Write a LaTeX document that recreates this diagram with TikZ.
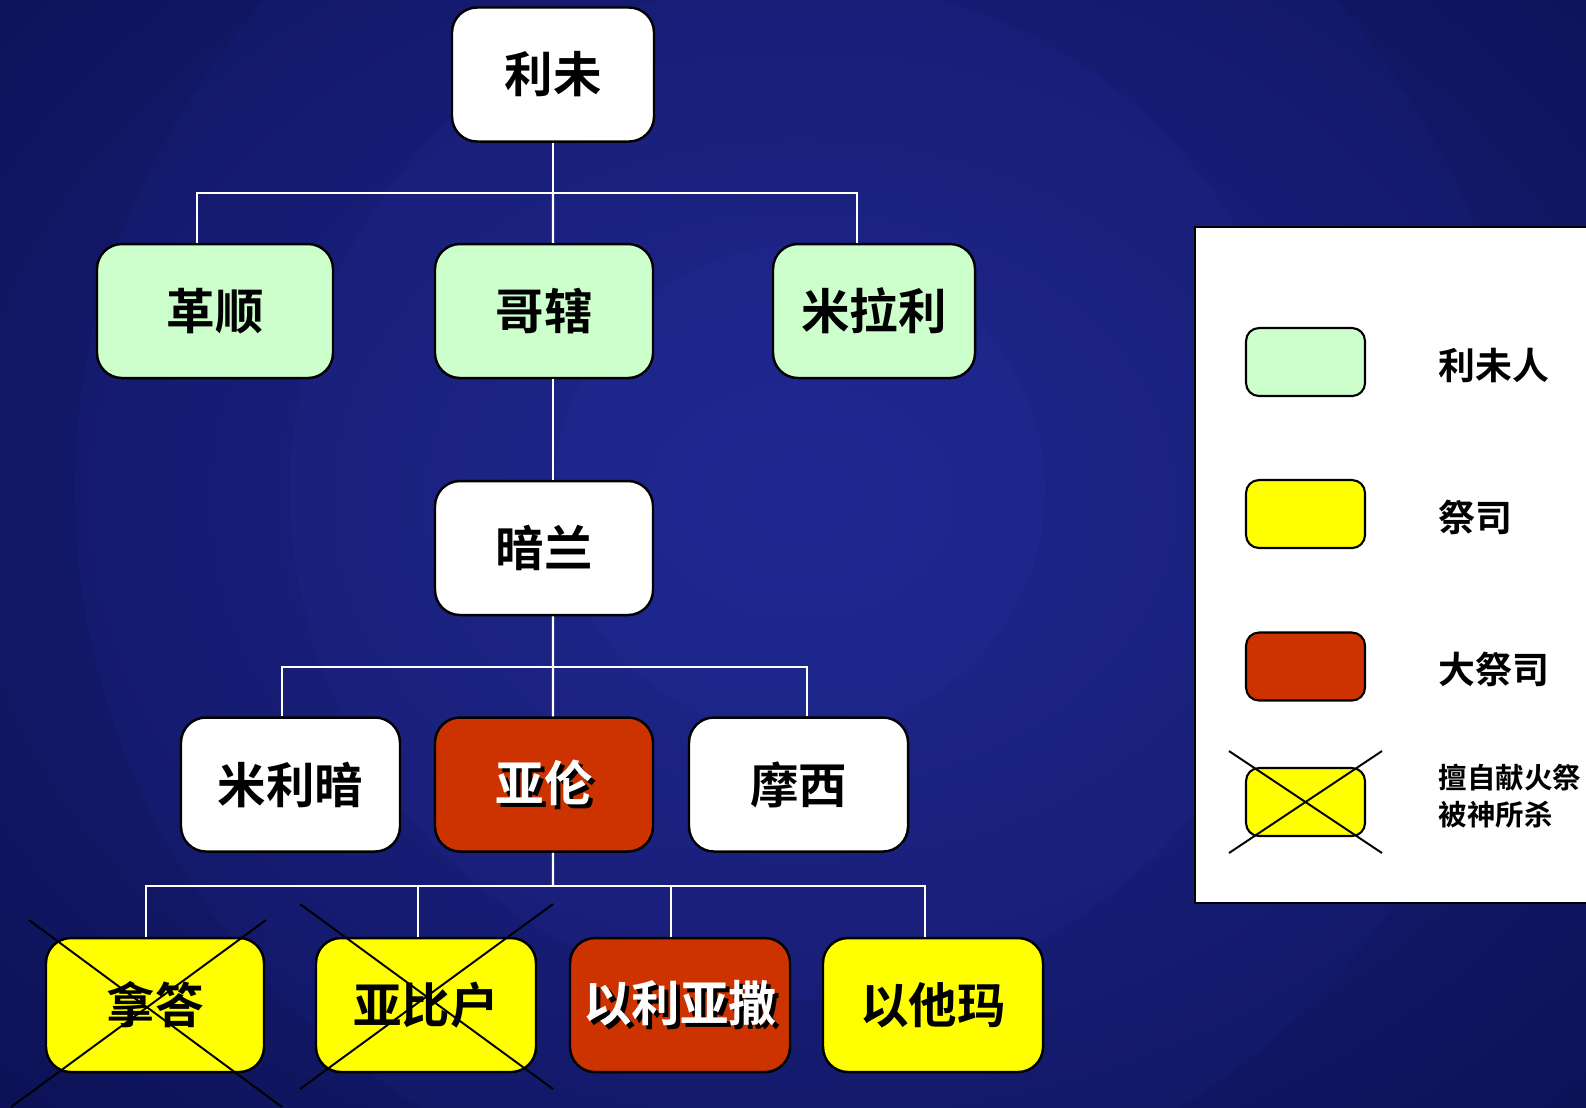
\documentclass[tikz,border=0pt]{standalone}
\usepackage{fontspec}
\newfontfamily\cjk{Noto Sans CJK SC}[BoldFont={Noto Sans CJK SC Bold}]
\usetikzlibrary{positioning}

\definecolor{bgdark}{HTML}{0A0F4E}
\definecolor{bgmid}{HTML}{1D2489}
\definecolor{bgring}{HTML}{2A34A8}
\definecolor{levitegreen}{HTML}{CCFFCC}
\definecolor{priestyellow}{HTML}{FFFF00}
\definecolor{highred}{HTML}{CC3300}

\newcommand{\shadowtext}[1]{\makebox[0pt][l]{\hspace{1.2pt}\raisebox{-1.2pt}{\color{black}#1}}{\color{white}#1}}

\tikzset{
  person/.style={draw=black, line width=0.7pt, rounded corners=0.25cm,
    minimum height=1.34cm, inner sep=0pt, font=\cjk\bfseries\fontsize{13.8}{16}\selectfont},
  levite/.style={person, fill=levitegreen},
  priest/.style={person, fill=priestyellow},
  highpriest/.style={person, fill=highred},
  plain/.style={person, fill=white},
  link/.style={white, line width=0.6pt},
  killed/.style={black, line width=0.55pt},
  keybox/.style={draw=black, line width=0.6pt, rounded corners=0.13cm,
    minimum width=1.19cm, minimum height=0.68cm, inner sep=0pt},
  keytext/.style={anchor=west, inner sep=0pt, font=\cjk\bfseries\fontsize{10.5}{12}\selectfont}
}

\begin{document}
\begin{tikzpicture}
    \useasboundingbox (0,0) rectangle (15.86,-11.07);
    \clip (0,0) rectangle (15.86,-11.07);
    % Background
    \shade[inner color=bgmid, outer color=bgdark] (-5,5) rectangle (21,-15);
    \fill[bgring, opacity=0.10] (8.0,-4.9) circle (7.25);
    \fill[bgring, opacity=0.12] (8.0,-4.9) circle (5.1);
    \fill[bgring, opacity=0.14] (8.0,-4.9) circle (2.45);

    % Levi and his sons
    \node[plain, minimum width=2.02cm] (levi) at (5.53,-0.745) {利未};
    \node[levite, minimum width=2.36cm] (gershon) at (2.15,-3.11) {革顺};
    \node[levite, minimum width=2.18cm] (kohath) at (5.44,-3.11) {哥辖};
    \node[levite, minimum width=2.02cm] (merari) at (8.74,-3.11) {米拉利};

    % Amram and his children
    \node[plain, minimum width=2.18cm] (amram) at (5.44,-5.48) {暗兰};
    \node[plain, minimum width=2.19cm] (miriam) at (2.905,-7.845) {米利暗};
    \node[highpriest, minimum width=2.18cm] (aaron) at (5.44,-7.845) {\shadowtext{亚伦}};
    \node[plain, minimum width=2.19cm] (moses) at (7.985,-7.845) {摩西};

    % Aaron's sons
    \node[priest, minimum width=2.18cm] (nadab) at (1.55,-10.05) {拿答};
    \node[priest, minimum width=2.20cm] (abihu) at (4.26,-10.05) {亚比户};
    \node[highpriest, minimum width=2.20cm] (eleazar) at (6.80,-10.05) {\shadowtext{以利亚撒}};
    \node[priest, minimum width=2.20cm] (ithamar) at (9.33,-10.05) {以他玛};

    % Lines of descent
    \coordinate (b1) at (5.53,-1.93);
    \draw[link] (levi) -- (b1);
    \draw[link] (b1) -| ([xshift=-1.8mm]gershon.north);
    \draw[link] (b1) -- ([xshift=0.9mm]kohath.north);
    \draw[link] (b1) -| ([xshift=-1.7mm]merari.north);
    \draw[link] ([xshift=0.9mm]kohath.south) -- ([xshift=0.9mm]amram.north);

    \coordinate (b2) at (5.53,-6.67);
    \draw[link] ([xshift=0.9mm]amram.south) -- (b2);
    \draw[link] (b2) -| ([xshift=-0.85mm]miriam.north);
    \draw[link] (b2) -- ([xshift=0.9mm]aaron.north);
    \draw[link] (b2) -| ([xshift=0.85mm]moses.north);

    \coordinate (b3) at (5.53,-8.86);
    \draw[link] ([xshift=0.9mm]aaron.south) -- (b3);
    \draw[link] (b3) -| ([xshift=-0.9mm]nadab.north);
    \draw[link] (b3) -| ([xshift=-0.8mm]abihu.north);
    \draw[link] (b3) -| ([xshift=-0.9mm]eleazar.north);
    \draw[link] (b3) -| ([xshift=-0.8mm]ithamar.north);

    % Struck down for strange fire
    \draw[killed] (0.29,-9.20) -- (2.82,-11.07);
    \draw[killed] (2.66,-9.20) -- (0.11,-11.07);
    \draw[killed] (3.00,-9.04) -- (5.53,-10.89);
    \draw[killed] (5.53,-9.04) -- (3.00,-10.89);

    % Legend
    \draw[fill=white, line width=0.7pt] (11.95,-2.27) rectangle (16.2,-9.03);
    \node[keybox, fill=levitegreen] (keylevite) at (13.055,-3.62) {};
    \node[keybox, fill=priestyellow] (keypriest) at (13.055,-5.14) {};
    \node[keybox, fill=highred] (keyhigh) at (13.055,-6.665) {};
    \node[keybox, fill=priestyellow] (keykilled) at (13.055,-8.02) {};
    \draw[killed] (12.29,-7.51) -- (13.82,-8.53);
    \draw[killed] (13.82,-7.51) -- (12.29,-8.53);

    \node[keytext] (txtlevite) at (14.38,-3.65) {利未人};
    \node[keytext] (txtpriest) at (14.38,-5.17) {祭司};
    \node[keytext] (txthigh) at (14.38,-6.69) {大祭司};
    \node[keytext, align=left, font=\cjk\bfseries\fontsize{8.1}{10.5}\selectfont] (txtkilled) at (14.38,-7.96) {擅自献火祭\\被神所杀};
\end{tikzpicture}
\end{document}
